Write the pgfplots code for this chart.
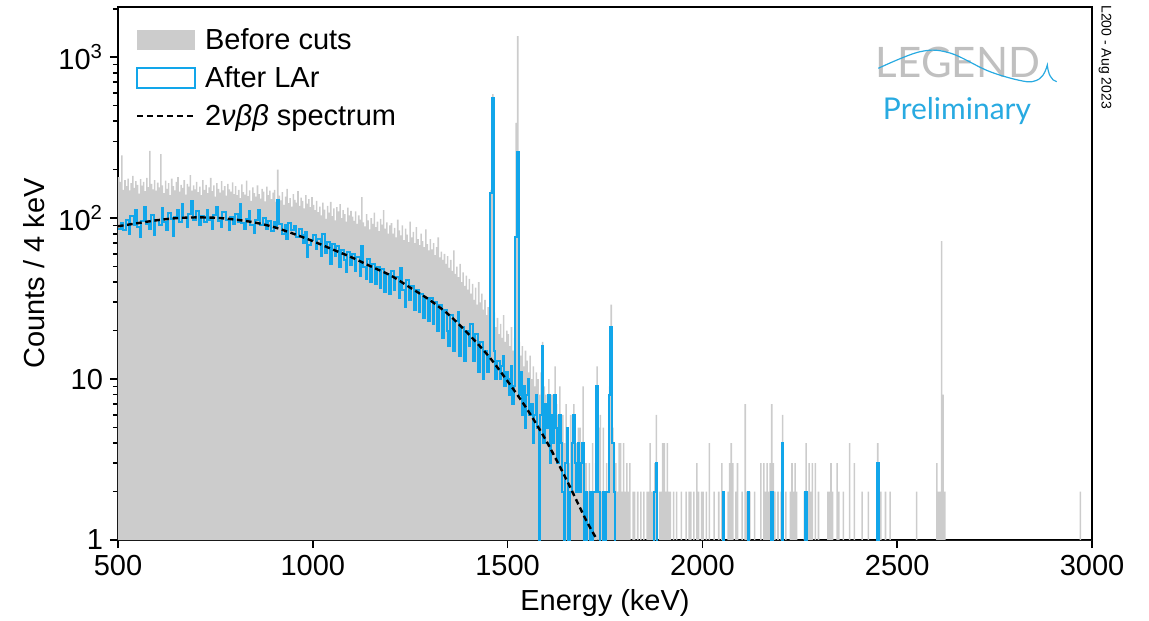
\documentclass[border=0pt]{standalone}
\usepackage{fontspec}
\setmainfont{Liberation Sans}
\newfontfamily\logofont{Lato}
\usepackage{pgfplots}
\pgfplotsset{compat=1.18}
\usetikzlibrary{calc}
\definecolor{histgray}{RGB}{204,204,204}
\definecolor{histblue}{RGB}{18,166,234}
\definecolor{logogray}{RGB}{192,192,192}
\definecolor{logoblue}{RGB}{40,170,225}
\newcommand{\lblfont}{\fontsize{14.5}{17}\selectfont}

\begin{document}
\begin{tikzpicture}
\begin{axis}[
  name=ax,
  scale only axis, width=487pt, height=266.5pt,
  xmin=500, xmax=3000, ymode=log, ymin=1, ymax=2050,
  axis line style={line width=1pt},
  tick align=outside, tick style={black, line width=0.8pt},
  major tick length=4pt, minor tick length=2.5pt,
  xtick={500,1000,1500,2000,2500,3000},
  xticklabels={500,1000,1500,2000,2500,3000},
  ytick={1,10,100,1000},
  yticklabels={1,10,10\textsuperscript{2},10\textsuperscript{3}},
  minor ytick={2,3,4,5,6,7,8,9,20,30,40,50,60,70,80,90,200,300,400,500,600,700,800,900,2000},
  xtick pos=bottom, ytick pos=left,
  ticklabel style={font=\lblfont},
  label style={font=\lblfont},
  xlabel={Energy (keV)}, ylabel={Counts / 4 keV},
  legend cell align=left,
  legend style={draw=none, fill=none, at={(0.012,0.976)}, anchor=north west,
    font=\lblfont, row sep=3pt, column sep=2.5pt},
]
% spectrum before any cuts (4 keV bins, left bin edges; a value holds up to the next edge)
\addplot[const plot, fill=histgray, draw=none,
  legend image code/.code={\fill[histgray] (0pt,-5pt) rectangle (29pt,5pt);}]
coordinates {
(500,180)(504,168)(508,245)(512,150)(516,172)(520,158)(524,176)(528,149)(532,165)(536,183)(540,154)(544,170)(548,161)(552,142)(556,175)(560,159)(564,168)(568,147)(572,178)(576,156)(580,262)(584,163)(588,151)(592,172)(596,148)
(600,166)(604,155)(608,250)(612,160)(616,143)(620,171)(624,152)(628,165)(632,139)(636,176)(640,158)(644,149)(648,168)(652,180)(656,146)(660,161)(664,154)(668,172)(672,140)(676,163)(680,157)(684,185)(688,148)(692,160)(696,151)
(700,168)(704,145)(708,157)(712,139)(716,172)(720,150)(724,161)(728,143)(732,155)(736,178)(740,147)(744,160)(748,136)(752,165)(756,152)(760,144)(764,170)(768,149)(772,158)(776,138)(780,163)(784,151)(788,146)(792,167)(796,141)
(800,158)(804,139)(808,150)(812,133)(816,162)(820,145)(824,140)(828,171)(832,137)(836,149)(840,128)(844,155)(848,143)(852,136)(856,160)(860,141)(864,132)(868,152)(872,146)(876,127)(880,157)(884,139)(888,148)(892,131)(896,144)
(900,150)(904,126)(908,200)(912,138)(916,129)(920,145)(924,121)(928,136)(932,152)(936,124)(940,133)(944,118)(948,141)(952,130)(956,125)(960,147)(964,119)(968,134)(972,128)(976,115)(980,139)(984,123)(988,131)(992,117)(996,135)
(1000,121)(1004,112)(1008,128)(1012,109)(1016,118)(1020,104)(1024,125)(1028,113)(1032,99)(1036,119)(1040,108)(1044,126)(1048,103)(1052,115)(1056,97)(1060,117)(1064,110)(1068,122)(1072,100)(1076,112)(1080,106)(1084,95)(1088,116)(1092,104)(1096,111)
(1100,102)(1104,96)(1108,110)(1112,92)(1116,104)(1120,98)(1124,135)(1128,94)(1132,89)(1136,106)(1140,97)(1144,85)(1148,100)(1152,92)(1156,108)(1160,88)(1164,95)(1168,83)(1172,99)(1176,91)(1180,112)(1184,86)(1188,94)(1192,80)(1196,90)
(1200,93)(1204,80)(1208,87)(1212,76)(1216,98)(1220,84)(1224,78)(1228,90)(1232,73)(1236,86)(1240,79)(1244,71)(1248,95)(1252,76)(1256,82)(1260,70)(1264,88)(1268,74)(1272,68)(1276,80)(1280,72)(1284,66)(1288,85)(1292,69)(1296,63)
(1300,74)(1304,64)(1308,70)(1312,59)(1316,66)(1320,76)(1324,57)(1328,62)(1332,55)(1336,60)(1340,52)(1344,58)(1348,49)(1352,55)(1356,47)(1360,63)(1364,45)(1368,50)(1372,43)(1376,52)(1380,40)(1384,46)(1388,38)(1392,44)(1396,36)
(1400,42)(1404,34)(1408,39)(1412,31)(1416,37)(1420,29)(1424,40)(1428,30)(1432,34)(1436,27)(1440,31)(1444,25)(1448,28)(1452,23)(1456,150)(1460,590)(1464,26)(1468,21)(1472,24)(1476,19)(1480,22)(1484,18)(1488,25)(1492,17)(1496,20)
(1500,19)(1504,16)(1508,21)(1512,15)(1516,18)(1520,390)(1524,1350)(1528,17)(1532,14)(1536,16)(1540,12)(1544,15)(1548,13)(1552,11)(1556,14)(1560,10)(1564,12)(1568,9)(1572,11)(1576,10)(1580,8)(1584,11)(1588,17)(1592,9)(1596,8)
(1600,7)(1604,10)(1608,6)(1612,8)(1616,5)(1620,12)(1624,7)(1628,6)(1632,9)(1636,5)(1640,6)(1644,4)(1648,7)(1652,5)(1656,3)(1660,6)(1664,4)(1668,7)(1672,3)(1676,4)(1680,5)(1684,5)(1688,4)(1692,9)(1696,3)
(1700,3)(1704,2)(1708,3)(1712,2)(1716,4)(1720,2)(1724,3)(1728,12)(1732,5)(1736,6)(1740,2)(1744,5)(1748,2)(1752,3)(1756,2)(1760,9)(1764,29)(1768,5)(1772,4)(1776,3)(1780,2)(1784,4)(1788,4)(1792,2)(1796,4)
(1800,2)(1804,3)(1808,2)(1812,3)(1816,1)(1820,2)(1828,1)(1832,2)(1836,1)(1840,2)(1844,1)(1848,2)(1852,1)(1856,2)(1864,4)(1868,2)(1876,3)(1880,6)(1884,1)(1888,2)(1896,4)
(1904,2)(1908,4)(1912,2)(1920,1)(1924,2)(1928,1)(1932,2)(1936,1)(1944,2)(1948,1)(1956,2)(1960,1)(1964,2)(1972,1)(1976,2)(1980,1)(1984,3)(1988,2)(1992,1)(1996,2)
(2004,1)(2008,2)(2012,1)(2016,4)(2020,1)(2028,2)(2032,1)(2040,2)(2044,1)(2048,3)(2052,2)(2056,1)(2064,2)(2068,3)(2072,4)(2076,3)(2080,1)(2084,2)(2088,3)(2092,1)
(2100,2)(2104,1)(2108,7)(2112,2)(2124,1)(2132,2)(2136,1)(2148,3)(2152,1)(2156,3)(2160,2)(2164,3)(2168,2)(2172,3)(2176,7)(2180,3)(2184,2)(2188,1)(2192,2)(2196,1)
(2200,2)(2204,6)(2208,1)(2212,2)(2216,1)(2224,2)(2228,3)(2232,2)(2236,3)(2240,2)(2244,1)(2260,2)(2264,4)(2268,2)(2272,3)(2276,2)(2280,3)(2284,1)(2288,3)(2292,1)(2296,2)
(2300,1)(2320,2)(2328,3)(2332,2)(2336,1)(2344,3)(2348,2)(2352,1)(2360,2)(2364,1)(2376,4)(2380,1)(2388,3)(2392,1)
(2408,2)(2412,1)(2424,2)(2428,1)(2448,4)(2452,1)(2456,2)(2460,1)(2468,2)(2472,1)(2480,2)(2484,1)
(2548,2)(2552,1)(2600,3)(2604,2)(2612,72)(2616,8)(2620,2)(2624,1)(2968,2)(2972,1)(3000,1)
} \closedcycle;
\addlegendentry{Before cuts}

% spectrum after the LAr veto (same bins, change points only); empty bins sit below the axis floor
\addplot[const plot, draw=histblue, line width=1pt,
  legend image code/.code={\draw[histblue, line width=1pt] (0pt,-5pt) rectangle (29pt,5pt);}]
coordinates {
(500,86)(508,93)(512,84)(520,97)(528,80)(532,103)(540,91)(544,112)(548,88)(556,76)(560,96)(568,118)(572,92)(580,85)(584,104)(592,79)(596,98)
(604,90)(612,115)(616,95)(624,84)(628,108)(636,99)(640,77)(644,101)(652,112)(656,94)(664,122)(668,100)(676,88)(680,106)(688,127)(692,97)
(700,110)(708,90)(712,103)(720,95)(728,113)(732,98)(740,86)(744,104)(752,118)(756,96)(764,88)(768,109)(776,97)(784,84)(788,102)(796,92)
(800,106)(808,95)(812,122)(816,93)(824,85)(828,99)(836,110)(840,91)(848,81)(852,97)(860,112)(864,90)(872,100)(880,86)(884,96)(892,83)
(900,94)(904,88)(908,130)(912,92)(920,80)(928,91)(932,74)(936,93)(944,84)(952,89)(956,76)(964,86)(972,79)(976,70)(980,82)(984,57)(988,68)(996,73)
(1000,78)(1008,64)(1012,74)(1020,58)(1024,80)(1032,61)(1036,71)(1044,52)(1048,69)(1056,58)(1060,67)(1068,50)(1072,63)(1080,55)(1084,46)(1088,62)(1096,51)
(1100,60)(1108,47)(1112,57)(1120,44)(1124,67)(1128,50)(1136,42)(1140,56)(1148,40)(1152,52)(1160,39)(1164,50)(1172,37)(1176,48)(1184,35)(1188,45)(1196,34)
(1200,47)(1208,36)(1212,43)(1220,32)(1224,49)(1228,36)(1236,28)(1240,41)(1248,31)(1252,38)(1260,27)(1264,36)(1272,26)(1276,34)(1284,24)(1288,32)(1296,23)
(1300,32)(1308,22)(1312,30)(1320,20)(1324,29)(1332,18)(1336,27)(1344,20)(1348,16)(1352,25)(1360,15)(1364,23)(1372,26)(1376,14)(1380,21)(1388,13)(1392,20)
(1400,16)(1404,22)(1412,13)(1416,19)(1424,11)(1428,17)(1436,10)(1440,15)(1448,11)(1452,14)(1456,143)(1460,556)(1464,15)(1468,10)(1472,13)(1480,10)(1484,12)(1488,14)(1492,9)(1496,11)
(1500,10)(1504,8)(1508,12)(1512,7)(1516,9)(1520,76)(1524,258)(1528,8)(1532,11)(1536,6)(1540,9)(1544,5)(1548,8)(1552,10)(1556,6)(1560,7)(1564,4)(1568,6)(1572,8)(1576,5)(1580,0.5)(1584,6)(1588,16)(1592,4)(1596,7)
(1600,5)(1604,8)(1608,3)(1612,6)(1616,4)(1620,8)(1624,5)(1628,3)(1632,6)(1636,4)(1640,2)(1644,0.5)(1648,3)(1652,5)(1656,0.5)(1660,2)(1664,4)(1668,6)(1672,3)(1676,2)(1680,4)(1684,2)(1688,3)(1692,4)(1696,0.5)
(1700,2)(1704,0.5)(1712,2)(1716,0.5)(1720,2)(1728,9)(1732,2)(1736,0.5)(1744,2)(1748,0.5)(1752,2)(1760,8)(1764,21)(1768,4)(1772,2)(1776,0.5)
(1876,2)(1880,3)(1884,0.5)(2052,2)(2056,0.5)(2116,2)(2120,0.5)(2176,2)(2180,0.5)(2204,4)(2208,0.5)(2264,2)(2268,0.5)(2448,3)(2452,0.5)(3000,0.5)
};
\addlegendentry{After LAr}

% expected two-neutrino double beta decay shape
\addplot[smooth, black, line width=1.2pt, dash pattern=on 2.8pt off 1.8pt,
  legend image code/.code={\draw[black, line width=0.8pt, dash pattern=on 3pt off 2pt] (0pt,0pt) -- (29pt,0pt);}]
coordinates {
(500,89)(550,93)(600,97)(650,100)(700,101)(750,100.5)(800,98)(850,94)(900,88)(950,80)(1000,72)(1050,64)(1100,57)(1150,50)(1200,44)(1250,37)(1300,31)(1350,25)(1400,19)(1450,14)(1500,9.7)(1550,6.5)(1600,4.1)(1650,2.4)(1700,1.35)(1730,1.0)
};
\addlegendentry{2\textit{νββ} spectrum}
\end{axis}

% logo, preliminary mark and date stamp
\begin{scope}[shift={(ax.south west)}, x=487pt, y=266.5pt]
  \node[logogray, font=\logofont\fontsize{21}{21}\selectfont] at (0.8624,0.8968) {LEGEND};
  \draw[logoblue, line width=0.6pt] plot[smooth, tension=0.6] coordinates
    {(0.7806,0.8850)(0.8234,0.9161)(0.8542,0.9137)(0.8953,0.8786)(0.9330,0.8599)(0.9466,0.8662)}
    .. controls (0.951,0.872) and (0.953,0.884) .. (0.9541,0.8912)
    .. controls (0.955,0.875) and (0.958,0.862) .. (0.9638,0.8599);
  \node[logoblue, font=\logofont\fontsize{15}{15}\selectfont] at (0.8614,0.805) {Preliminary};
  \node[rotate=-90, font=\fontsize{7}{8}\selectfont] at (1.0133,0.906) {L200 - Aug 2023};
\end{scope}

\pgfresetboundingbox
\path[use as bounding box] ($(ax.south west)+(-59pt,-40pt)$) rectangle ($(ax.north east)+(28.5pt,3.5pt)$);
\end{tikzpicture}
\end{document}
